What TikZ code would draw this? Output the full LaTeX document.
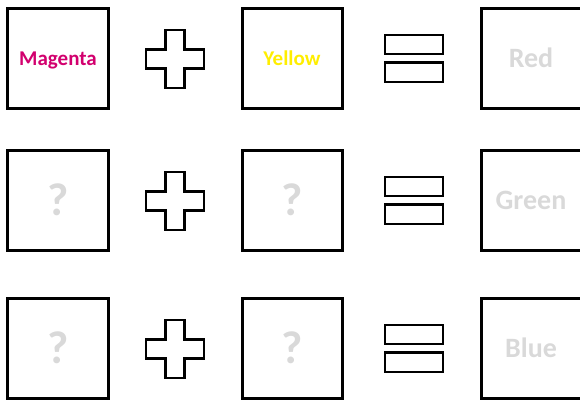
\documentclass[tikz,border=0pt]{standalone}
\usepackage{fontspec}
\setmainfont{Carlito}
\definecolor{mag}{RGB}{210,0,110}
\definecolor{yel}{RGB}{255,238,0}
\definecolor{lg}{RGB}{217,217,217}
\begin{document}
\begin{tikzpicture}[x=1bp,y=-1bp,
  cbox/.style={draw=black,line width=3bp,minimum size=100bp,inner sep=0pt,font=\bfseries,text depth=0pt},
  small/.style={font=\fontsize{21bp}{24bp}\selectfont\bfseries,text height=13bp},
  big/.style={text=lg,font=\fontsize{28bp}{32bp}\selectfont\bfseries,text height=18bp},
  qm/.style={text=lg,font=\fontsize{46bp}{50bp}\selectfont\bfseries,text height=30bp},
  symline/.style={draw=black,line width=2.2bp},
  plussign/.pic={\draw[symline] (-9.5,-29) -- (9.5,-29) -- (9.5,-9.5) -- (29,-9.5) -- (29,9.5) -- (9.5,9.5) -- (9.5,29) -- (-9.5,29) -- (-9.5,9.5) -- (-29,9.5) -- (-29,-9.5) -- (-9.5,-9.5) -- cycle;},
  equalsign/.pic={\draw[symline] (-29,-23.5) rectangle (29,-4.5) (-29,4) rectangle (29,23.5);}
]
\useasboundingbox (0,0) rectangle (580,400);
% row 1
\node[cbox,small,text=mag] (a1) at (58,58.5) {Magenta};
\node[cbox,small,text=yel] (b1) at (292,58.5) {Yellow};
\node[cbox,big] (c1) at (531,58.5) {Red};
\pic at (175,59) {plussign};
\pic at (414,58.5) {equalsign};
% row 2
\node[cbox,qm] (a2) at (58,200) {?};
\node[cbox,qm] (b2) at (292,200) {?};
\node[cbox,big] (c2) at (531,200) {Green};
\pic at (175,201) {plussign};
\pic at (414,200.5) {equalsign};
% row 3
\node[cbox,qm] (a3) at (58,348) {?};
\node[cbox,qm] (b3) at (292,348) {?};
\node[cbox,big] (c3) at (531,348) {Blue};
\pic at (175,349) {plussign};
\pic at (414,348.5) {equalsign};
\end{tikzpicture}
\end{document}
